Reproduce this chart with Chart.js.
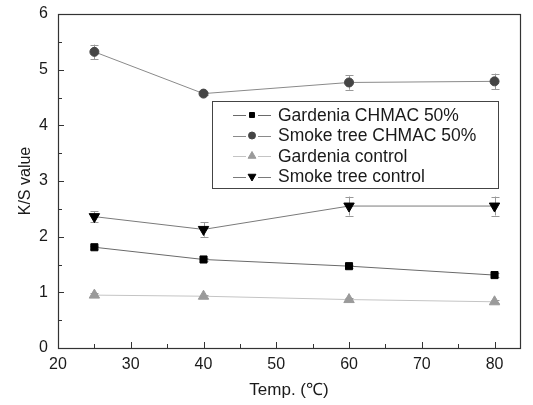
<!DOCTYPE html>
<html>
<head>
<meta charset="utf-8">
<script src="https://cdn.jsdelivr.net/npm/chart.js@4"></script>
<style>
  html, body { margin: 0; padding: 0; background: #fff; }
  #wrap { width: 533px; height: 405px; }
</style>
</head>
<body>
<div id="wrap"><canvas id="c" width="533" height="405"></canvas></div>
<script>
// Temperatures (°C)
const temps = [25, 40, 60, 80];

// K/S values per sample
const gardeniaChmac = [1.81, 1.59, 1.47, 1.31];
const smokeChmac    = [5.32, 4.57, 4.77, 4.79];
const gardeniaCtrl  = [0.95, 0.93, 0.87, 0.83];
const smokeCtrl     = [2.36, 2.13, 2.55, 2.55];

// Standard deviations
const gardeniaChmacErr = [0.03, 0.03, 0.03, 0.03];
const smokeChmacErr    = [0.13, 0.02, 0.13, 0.14];
const gardeniaCtrlErr  = [0.03, 0.03, 0.03, 0.03];
const smokeCtrlErr     = [0.10, 0.13, 0.17, 0.17];

// Axis tick labels
const xTicks = [20, 30, 40, 50, 60, 70, 80];
const yTicks = [0, 1, 2, 3, 4, 5, 6];

const labels = ['Gardenia CHMAC 50%', 'Smoke tree CHMAC 50%', 'Gardenia control', 'Smoke tree control'];

const FONT = '"Liberation Sans", Arial, sans-serif';

function pts(vals) { return temps.map((t, i) => ({ x: t, y: vals[i] })); }

const series = [
  { label: labels[0], data: pts(gardeniaChmac), err: gardeniaChmacErr, line: '#6a6a6a', fill: '#000000', style: 'rect',     rot: 0,   r: 5 },
  { label: labels[1], data: pts(smokeChmac),    err: smokeChmacErr,    line: '#8a8a8a', fill: '#454545', style: 'circle',   rot: 0,   r: 4.5 },
  { label: labels[2], data: pts(gardeniaCtrl),  err: gardeniaCtrlErr,  line: '#c4c4c4', fill: '#9a9a9a', style: 'triangle', rot: 0,   r: 6 },
  { label: labels[3], data: pts(smokeCtrl),     err: smokeCtrlErr,     line: '#7a7a7a', fill: '#000000', style: 'triangle', rot: 180, r: 6 }
];

// Error bars with caps
const errorBars = {
  id: 'errorBars',
  beforeDatasetsDraw(chart) {
    const { ctx, scales: { x, y } } = chart;
    ctx.save();
    ctx.lineWidth = 1;
    chart.data.datasets.forEach(ds => {
      ctx.strokeStyle = '#999';
      ds.data.forEach((p, i) => {
        const e = ds.err[i];
        if (!e) return;
        const px = Math.round(x.getPixelForValue(p.x)) + 0.5;
        const y1 = y.getPixelForValue(p.y + e);
        const y2 = y.getPixelForValue(p.y - e);
        ctx.beginPath();
        ctx.moveTo(px, y1); ctx.lineTo(px, y2);
        ctx.moveTo(px - 4, Math.round(y1) + 0.5); ctx.lineTo(px + 4, Math.round(y1) + 0.5);
        ctx.moveTo(px - 4, Math.round(y2) + 0.5); ctx.lineTo(px + 4, Math.round(y2) + 0.5);
        ctx.stroke();
      });
    });
    ctx.restore();
  }
};

// Frame around the plot and inward major/minor ticks
const frame = {
  id: 'frame',
  afterDatasetsDraw(chart) {
    const { ctx, chartArea: a, scales: { x, y } } = chart;
    ctx.save();
    ctx.strokeStyle = '#333';
    ctx.lineWidth = 1.2;
    ctx.strokeRect(Math.round(a.left) + 0.5, Math.round(a.top) + 0.5, Math.round(a.right - a.left), Math.round(a.bottom - a.top));
    ctx.lineWidth = 1;
    ctx.beginPath();
    for (let v = 20; v <= 80; v += 5) {
      const px = Math.round(x.getPixelForValue(v)) + 0.5;
      const len = v % 10 === 0 ? 6 : 4;
      ctx.moveTo(px, a.bottom); ctx.lineTo(px, a.bottom - len);
    }
    for (let v = 0; v <= 6; v += 0.5) {
      const py = Math.round(y.getPixelForValue(v)) + 0.5;
      const len = Number.isInteger(v) ? 6 : 4;
      ctx.moveTo(a.left, py); ctx.lineTo(a.left + len, py);
    }
    ctx.stroke();
    ctx.restore();
  }
};

// Boxed legend drawn inside the plot area
const boxLegend = {
  id: 'boxLegend',
  afterDraw(chart) {
    const { ctx } = chart;
    const bx = 212, by = 101, bw = 286, bh = 87;
    ctx.save();
    ctx.fillStyle = '#fff';
    ctx.fillRect(bx, by, bw, bh);
    ctx.strokeStyle = '#444';
    ctx.lineWidth = 1;
    ctx.strokeRect(bx + 0.5, by + 0.5, bw, bh);
    chart.data.datasets.forEach((ds, i) => {
      const cy = 115 + i * 20.5;
      ctx.strokeStyle = ds.borderColor;
      ctx.lineWidth = 1;
      ctx.beginPath();
      ctx.moveTo(233, Math.round(cy) + 0.5); ctx.lineTo(246, Math.round(cy) + 0.5);
      ctx.moveTo(258, Math.round(cy) + 0.5); ctx.lineTo(271, Math.round(cy) + 0.5);
      ctx.stroke();
      ctx.fillStyle = ds.pointBackgroundColor;
      ctx.strokeStyle = ds.pointBackgroundColor;
      Chart.helpers.drawPoint(ctx, { pointStyle: ds.pointStyle, rotation: ds.rotation, radius: ds.pointStyle === 'triangle' ? 4.5 : 3.5, borderWidth: 1 }, 252, cy);
      ctx.fillStyle = '#1a1a1a';
      ctx.font = '17.5px ' + FONT;
      ctx.textBaseline = 'middle';
      ctx.textAlign = 'left';
      ctx.fillText(ds.label, 278, cy + 1);
    });
    ctx.restore();
  }
};

new Chart(document.getElementById('c'), {
  type: 'line',
  data: {
    datasets: series.map(s => ({
      label: s.label,
      data: s.data,
      err: s.err,
      borderColor: s.line,
      borderWidth: 1,
      pointStyle: s.style,
      rotation: s.rot,
      pointRadius: s.r,
      pointHoverRadius: s.r,
      pointBackgroundColor: s.fill,
      pointBorderColor: s.fill,
      tension: 0
    }))
  },
  options: {
    responsive: false,
    animation: false,
    layout: { padding: { left: 12, right: 13, top: 14, bottom: 0 } },
    plugins: { legend: { display: false }, tooltip: { enabled: false } },
    scales: {
      x: {
        type: 'linear', min: 20, max: 83.5,
        grid: { display: false, drawTicks: false },
        border: { display: false },
        afterBuildTicks(s) { s.ticks = xTicks.map(v => ({ value: v })); },
        afterFit(s) { s.height = 57; s.paddingLeft = 0; s.paddingRight = 0; },
        ticks: { color: '#1a1a1a', font: { family: FONT, size: 16 }, padding: 7, maxRotation: 0 },
        title: { display: true, text: 'Temp. (℃)', color: '#1a1a1a', font: { family: FONT, size: 17 }, padding: { top: 12 } }
      },
      y: {
        type: 'linear', min: 0, max: 6,
        grid: { display: false, drawTicks: false },
        border: { display: false },
        afterBuildTicks(s) { s.ticks = yTicks.map(v => ({ value: v })); },
        afterFit(s) { s.width = 46; s.paddingTop = 0; s.paddingBottom = 0; },
        ticks: { color: '#1a1a1a', font: { family: FONT, size: 16 }, padding: 10 },
        title: { display: true, text: 'K/S value', color: '#1a1a1a', font: { family: FONT, size: 16 }, padding: { bottom: 4 } }
      }
    }
  },
  plugins: [errorBars, frame, boxLegend]
});
</script>
</body>
</html>
